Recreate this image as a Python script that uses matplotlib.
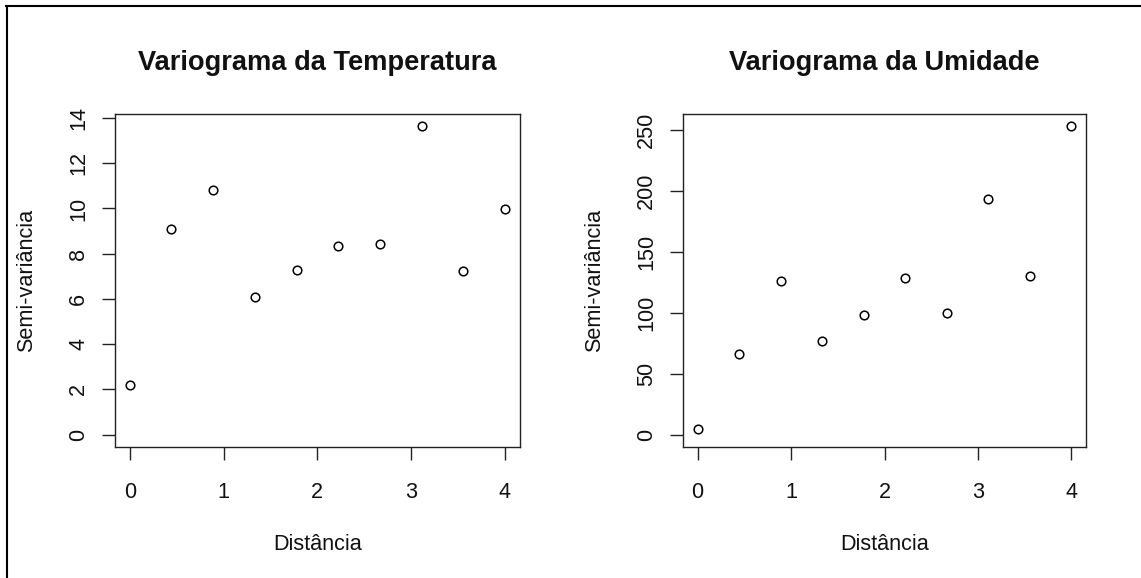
import matplotlib
matplotlib.use("Agg")
import matplotlib.pyplot as plt
from matplotlib.lines import Line2D

plt.rcParams['font.family'] = ['Liberation Sans', 'DejaVu Sans']

# Data
distancia = [0.0, 0.444, 0.889, 1.333, 1.778, 2.222, 2.667, 3.111, 3.556, 4.0]
semivar_temp = [2.20, 9.07, 10.83, 6.09, 7.29, 8.33, 8.45, 13.63, 7.23, 9.98]
semivar_umid = [4.5, 66.6, 126.5, 76.9, 98.4, 128.9, 99.6, 193.4, 130.1, 253.3]

titles = ["Variograma da Temperatura", "Variograma da Umidade"]
xlabel = "Distância"
ylabel = "Semi-variância"
xticks = [0, 1, 2, 3, 4]
yticks_temp = [0, 2, 4, 6, 8, 10, 12, 14]
yticks_umid = [0, 50, 100, 150, 200, 250]

W, H = 1141, 578
fig = plt.figure(figsize=(W / 100, H / 100), dpi=100)
fig.patch.set_facecolor('white')

def px_rect(x0, y0, x1, y1):
    return [x0 / W, 1 - y1 / H, (x1 - x0) / W, (y1 - y0) / H]

axes_px = [(114.7, 114, 520, 447), (682.7, 114, 1086.3, 447)]
series = [semivar_temp, semivar_umid]
yticks_list = [yticks_temp, yticks_umid]

base = 15.6
line_col = '#222222'
txt_col = '#111111'

for i in range(2):
    ax = fig.add_axes(px_rect(*axes_px[i]))
    y = series[i]
    ax.plot(distancia, y, linestyle='none', marker='o', markersize=6.2,
            markerfacecolor='none', markeredgecolor='black', markeredgewidth=1.1)
    ymax = max(y)
    pad = 0.04 * ymax
    ax.set_ylim(0 - pad, ymax + pad)
    ax.set_xlim(-0.16, 4.16)
    ax.set_xticks(xticks)
    ax.set_yticks(yticks_list[i])
    ax.set_xticklabels([str(t) for t in xticks])
    ax.set_yticklabels([str(t) for t in yticks_list[i]])
    for sp in ax.spines.values():
        sp.set_linewidth(1.0)
        sp.set_color(line_col)
    ax.tick_params(axis='both', length=9.4, width=1.0, color=line_col,
                   labelsize=base, labelcolor=txt_col)
    ax.tick_params(axis='x', pad=16)
    ax.tick_params(axis='y', pad=9, labelrotation=90)
    for lab in ax.get_yticklabels():
        lab.set_verticalalignment('center')
    h_px = axes_px[i][3] - axes_px[i][1]
    w_px = axes_px[i][2] - axes_px[i][0]
    ax.text(0.5, 1 + 51 / h_px, titles[i], transform=ax.transAxes,
            ha='center', va='center', fontsize=19.6, fontweight='bold', color=txt_col)
    ax.text(0.5, -97 / h_px, xlabel, transform=ax.transAxes,
            ha='center', va='center', fontsize=base, color=txt_col)
    ax.text(-88 / w_px, 0.5, ylabel, transform=ax.transAxes, rotation=90,
            ha='center', va='center', fontsize=base, color=txt_col)

# Outer border (top and left)
fig.add_artist(Line2D([6.5 / W, 6.5 / W], [0, 1 - 5.8 / H], transform=fig.transFigure,
                      color='black', linewidth=1.5))
fig.add_artist(Line2D([5.8 / W, 1], [1 - 5.8 / H, 1 - 5.8 / H], transform=fig.transFigure,
                      color='black', linewidth=1.5))

fig.savefig('out.png', dpi=100, facecolor='white')
